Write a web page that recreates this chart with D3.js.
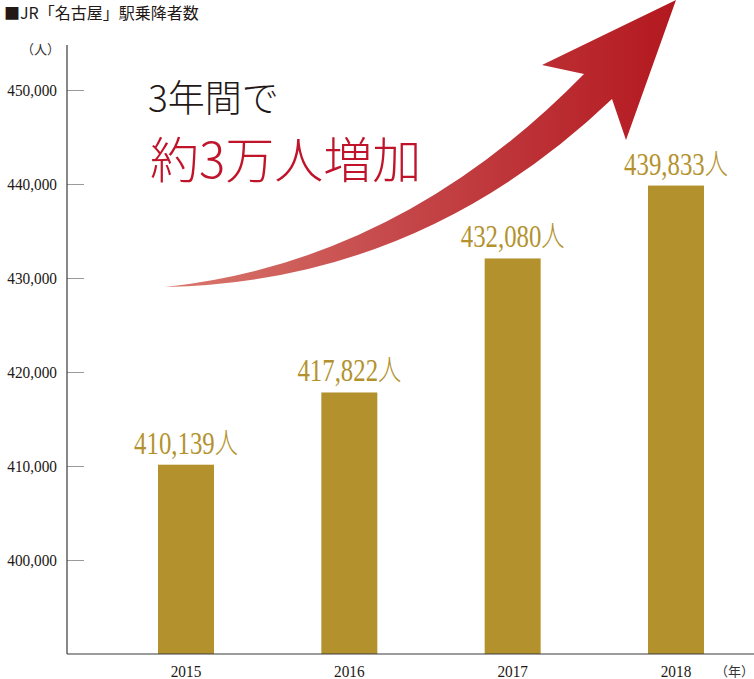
<!DOCTYPE html>
<html>
<head>
<meta charset="utf-8">
<script src="https://cdn.jsdelivr.net/npm/d3@7"></script>
<style>
  html, body { margin: 0; padding: 0; background: #fff; }
  svg { display: block; }
  .serif { font-family: "Liberation Serif", "DejaVu Serif", "Noto Sans CJK JP", serif; }
  .jp { font-family: "Noto Sans CJK JP", sans-serif; }
</style>
</head>
<body>
<div id="root"></div>
<script>
// data
var years = ["2015", "2016", "2017", "2018"];
var riders = [410139, 417822, 432080, 439833];
var yTicks = [400000, 410000, 420000, 430000, 440000, 450000];

var width = 754, height = 679;

var svg = d3.select("#root").append("svg")
    .attr("width", width)
    .attr("height", height);

// scales
var y = d3.scaleLinear().domain([390000, 450000]).range([654, 90]);
var x = d3.scalePoint().domain(years).range([186, 676]);
var barW = 56;
var gold = "#b3922e";

var fmt = d3.format(",");

// title
svg.append("text")
    .attr("class", "jp")
    .attr("x", 4).attr("y", 19)
    .attr("font-size", 16)
    .attr("fill", "#231815")
    .text("■JR「名古屋」駅乗降者数");

// unit label
svg.append("text")
    .attr("class", "jp")
    .attr("x", 60).attr("y", 54)
    .attr("text-anchor", "end")
    .attr("font-size", 13)
    .attr("fill", "#333")
    .text("（人）");

// y axis: ticks drawn inward
var yAxis = d3.axisRight(y)
    .tickValues(yTicks)
    .tickSize(17)
    .tickFormat("");

var yAxisG = svg.append("g")
    .attr("transform", "translate(67,0)")
    .call(yAxis);
yAxisG.select(".domain").remove();
yAxisG.selectAll(".tick line").attr("stroke", "#9a9a9a");

svg.append("g").selectAll("text")
    .data(yTicks)
    .enter().append("text")
    .attr("class", "serif")
    .attr("transform", d => "translate(57," + (y(d) + 6) + ") scale(0.9,1)")
    .attr("text-anchor", "end")
    .attr("font-size", 17)
    .attr("fill", "#231815")
    .text(d => fmt(d));

// bars
svg.append("g").selectAll("rect")
    .data(riders)
    .enter().append("rect")
    .attr("x", (d, i) => x(years[i]) - barW / 2)
    .attr("y", d => y(d))
    .attr("width", barW)
    .attr("height", d => y.range()[0] - y(d))
    .attr("fill", gold);

// bar value labels (condensed serif numerals)
var vl = svg.append("g").selectAll("text")
    .data(riders)
    .enter().append("text")
    .attr("class", "serif")
    .attr("transform", (d, i) => "translate(" + x(years[i]) + "," + (y(d) - 11) + ") scale(0.8,1)")
    .attr("text-anchor", "middle")
    .attr("font-size", 31)
    .attr("fill", gold);
vl.append("tspan").text(d => fmt(d));
vl.append("tspan").attr("class", "jp").attr("font-size", 29).attr("font-weight", 300).text("人");

// axis lines
svg.append("line")
    .attr("x1", 67).attr("x2", 67)
    .attr("y1", 45).attr("y2", y.range()[0])
    .attr("stroke", "#3a3a3a").attr("stroke-width", 1.2);
svg.append("line")
    .attr("x1", 67).attr("x2", width)
    .attr("y1", y.range()[0]).attr("y2", y.range()[0])
    .attr("stroke", "#3a3a3a").attr("stroke-width", 1.2);

// x labels
svg.append("g").selectAll("text")
    .data(years)
    .enter().append("text")
    .attr("class", "serif")
    .attr("transform", d => "translate(" + x(d) + ",677) scale(0.9,1)")
    .attr("text-anchor", "middle")
    .attr("font-size", 17)
    .attr("fill", "#231815")
    .text(d => d);

svg.append("text")
    .attr("class", "jp")
    .attr("x", 754).attr("y", 676)
    .attr("text-anchor", "end")
    .attr("font-size", 13)
    .attr("fill", "#333")
    .text("（年）");

// arrow
var defs = svg.append("defs");
var grad = defs.append("linearGradient")
    .attr("id", "arrowGrad")
    .attr("gradientUnits", "userSpaceOnUse")
    .attr("x1", 165).attr("y1", 0).attr("x2", 676).attr("y2", 0);
grad.append("stop").attr("offset", "0%").attr("stop-color", "#d9796e");
grad.append("stop").attr("offset", "45%").attr("stop-color", "#c5484a");
grad.append("stop").attr("offset", "100%").attr("stop-color", "#b3181f");

var p = d3.path();
p.moveTo(165, 287);
p.quadraticCurveTo(400, 262, 584, 74);
p.lineTo(542, 65);
p.lineTo(676, 0);
p.lineTo(626, 140);
p.lineTo(612, 99);
p.quadraticCurveTo(420, 282, 165, 287);
p.closePath();

svg.append("path")
    .attr("d", p.toString())
    .attr("fill", "url(#arrowGrad)");

// headline
svg.append("text")
    .attr("class", "jp")
    .attr("x", 148).attr("y", 112)
    .attr("font-size", 37)
    .attr("font-weight", 300)
    .attr("fill", "#231815")
    .text("3年間で");

svg.append("text")
    .attr("class", "jp")
    .attr("x", 150).attr("y", 178)
    .attr("font-size", 49)
    .attr("font-weight", 300)
    .attr("fill", "#c0142a")
    .text("約3万人増加");
</script>
</body>
</html>
